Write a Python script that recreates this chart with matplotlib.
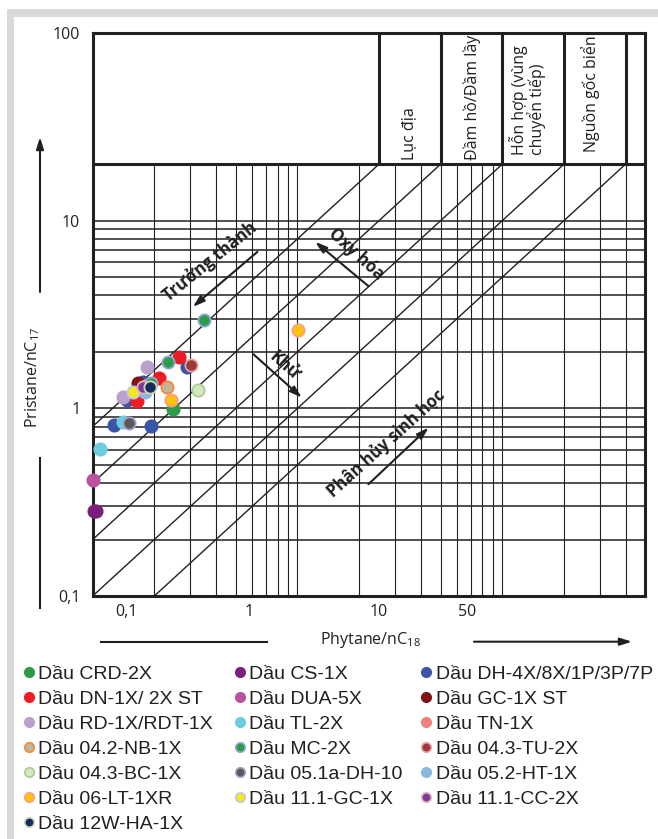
import numpy as np
import matplotlib
matplotlib.use('Agg')
import matplotlib.pyplot as plt
from matplotlib.lines import Line2D
from matplotlib.patches import Rectangle
from matplotlib.ticker import NullLocator

plt.rcParams['font.family'] = ['Open Sans', 'DejaVu Sans']
plt.rcParams['mathtext.fontset'] = 'custom'
plt.rcParams['mathtext.rm'] = 'Open Sans'

INK = '#231f20'

# legend names, in reading order (row by row, 3 per row)
names = ['Dầu CRD-2X', 'Dầu CS-1X', 'Dầu DH-4X/8X/1P/3P/7P',
         'Dầu DN-1X/ 2X ST', 'Dầu DUA-5X', 'Dầu GC-1X ST',
         'Dầu RD-1X/RDT-1X', 'Dầu TL-2X', 'Dầu TN-1X',
         'Dầu 04.2-NB-1X', 'Dầu MC-2X', 'Dầu 04.3-TU-2X',
         'Dầu 04.3-BC-1X', 'Dầu 05.1a-DH-10', 'Dầu 05.2-HT-1X',
         'Dầu 06-LT-1XR', 'Dầu 11.1-GC-1X', 'Dầu 11.1-CC-2X',
         'Dầu 12W-HA-1X']

# Phytane/nC18 per sample, same order as names
phytane = [[0.246], [0.101, 0.104, 0.168], [0.127, 0.192, 0.147, 0.290, 0.177],
           [0.264, 0.211, 0.164], [0.100], [0.166],
           [0.184, 0.140], [0.109, 0.141], [0.184],
           [0.230], [0.349, 0.232, 0.192], [0.301],
           [0.328], [0.151], [0.181],
           [1.01, 0.240], [0.158], [0.176],
           [0.191]]
# Pristane/nC17
pristane = [[0.99], [0.283, 0.283, 1.282], [0.814, 0.804, 1.106, 1.664, 1.384],
            [1.867, 1.454, 1.093], [0.414], [1.357],
            [1.664, 1.143], [0.604, 0.847], [1.33],
            [1.302], [2.95, 1.757, 1.362], [1.699],
            [1.250], [0.831], [1.224],
            [2.61, 1.106], [1.224], [1.297],
            [1.292]]

face = ['#2e9b48', '#7b1f7d', '#3a55a5', '#ed1c24', '#b9529f', '#7f1416',
        '#b9a0cf', '#6ccde0', '#f08080', '#c2b499', '#2e9b48', '#9b3a3a',
        '#d8e6c3', '#5a5a5a', '#8ab8de', '#ffc20e', '#f2ea1c', '#7b3c97',
        '#1b2a5e']
edge = ['#2e9b48', '#7b1f7d', '#3a55a5', '#ed1c24', '#b9529f', '#7f1416',
        '#b9a0cf', '#6ccde0', '#f08080', '#f08a3c', '#8fa9d6', '#e8a0a0',
        '#a9cd8a', '#a99bcc', '#8ab8de', '#f8a080', '#c0c8e6', '#e6b0b8',
        '#c6dbb4']

# Pr/Ph ratio lines and the header zones (Phytane/nC18 boundaries)
ratios = [8, 4, 2, 1, 0.5]
zone_edges = [2.5, 5, 10, 20, 40]
zone_labels = ['Lục địa', 'Đầm hồ/Đầm lầy', 'Hỗn hợp (vùng\nchuyển tiếp)', 'Nguồn gốc biển']
zone_label_x = [3.52, 7.14, 13.3, 26.9]
zone_label_y = [21.0, 21.0, 22.4, 23.2]

fig = plt.figure(figsize=(6.58, 8.39), dpi=100)
W, H = 658., 839.

# light grey frame strips (top and left)
fig.patches.append(Rectangle((7/W, 1-17/H), 1-7/W, 8/H, transform=fig.transFigure,
                             color='#d9d9d9', lw=0, zorder=0))
fig.patches.append(Rectangle((7/W, 0), 7/W, 1-9/H, transform=fig.transFigure,
                             color='#d9d9d9', lw=0, zorder=0))

ax = fig.add_axes([92.7/W, 1-596/H, 552.7/W, 563/H])
ax.set_xscale('log')
ax.set_yscale('log')
ax.set_xlim(0.1, 50)
ax.set_ylim(0.1, 100)
for s in ax.spines.values():
    s.set_linewidth(2.2)
    s.set_color(INK)

ax.set_xticks([])
ax.xaxis.set_minor_locator(NullLocator())
ax.set_yticks([0.1, 1, 10, 100], ['0,1', '1', '10', '100'])
ax.yaxis.set_minor_locator(NullLocator())
ax.tick_params(which='both', length=0, labelsize=11.5, pad=9, colors=INK)

# grid of the lower part
h_levels = np.concatenate([np.arange(2, 10) * 0.1, np.arange(1, 10), [10]])
v_levels = np.concatenate([np.arange(2, 10) * 0.1, np.arange(1, 10), [10, 20, 30, 40]])
ax.hlines(h_levels, 0.1, 50, color=INK, lw=1.1, zorder=1)
ax.vlines(v_levels, 0.1, 20, color=INK, lw=0.8, zorder=1)

# header box
ax.axhline(20, color=INK, lw=2.2, zorder=2)
ax.vlines(zone_edges, 20, 100, color=INK, lw=2.2, zorder=2)
for lab, x, y in zip(zone_labels, zone_label_x, zone_label_y):
    ax.text(x, y, lab, rotation=90, rotation_mode='anchor', ha='left', va='center',
            fontsize=11.5, color=INK, linespacing=0.95)

# Pr/Ph diagonals
for r in ratios:
    x0 = max(0.1, 0.1 / r)
    x1 = min(50, 20 / r)
    ax.plot([x0, x1], [r * x0, r * x1], color=INK, lw=1.0, zorder=1)

# process arrows + labels
arw = dict(arrowstyle='-|>,head_length=0.7,head_width=0.22', lw=1.5, color=INK,
           mutation_scale=10, shrinkA=0, shrinkB=0)
ax.annotate('', xy=(0.308, 3.47), xytext=(0.637, 6.82), arrowprops=arw)
ax.annotate('', xy=(1.22, 7.72), xytext=(2.22, 4.48), arrowprops=arw)
ax.annotate('', xy=(1.05, 1.14), xytext=(0.61, 1.94), arrowprops=arw)
ax.annotate('', xy=(4.37, 0.79), xytext=(2.22, 0.394), arrowprops=arw)
ax.text(0.3745, 6.09, 'Trưởng thành', rotation=39, ha='center', va='center',
        fontsize=12, fontweight='bold', color=INK)
ax.text(1.936, 6.64, 'Oxy hóa', rotation=-42, ha='center', va='center',
        fontsize=12, fontweight='bold', color=INK)
ax.text(0.861, 1.68, 'Khử', rotation=-42, ha='center', va='center',
        fontsize=12, fontweight='bold', color=INK)
ax.text(2.714, 0.653, 'Phân hủy sinh học', rotation=42, ha='center', va='center',
        fontsize=12, fontweight='bold', color=INK)

# samples
for px, py, fc, ec in zip(phytane, pristane, face, edge):
    ax.scatter(px, py, s=78, c=fc, edgecolors=ec, linewidths=1.3, zorder=4, clip_on=False)

# x tick labels (as printed on the original figure)
xt_pos = [0.0602, 0.2825, 0.5178, 0.6770]
xt_lab = ['0,1', '1', '10', '50']
for p, l in zip(xt_pos, xt_lab):
    ax.text(p, -0.029, l, transform=ax.transAxes, ha='center', va='center',
            fontsize=11.5, color=INK)

# axis titles with their arrows
fig.text(33/W, 1-377/H, 'Pristane/nC$_{\\mathregular{17}}$', rotation=90, ha='center',
         va='center', fontsize=11.5, color=INK)
fig.text(370/W, 1-640/H, 'Phytane/nC$_{\\mathregular{18}}$', ha='center', va='center',
         fontsize=11.5, color=INK)
ax.annotate('', xy=(40/W, 1-137/H), xytext=(40/W, 1-292/H), xycoords='figure fraction',
            arrowprops=arw)
fig.add_artist(Line2D([40/W, 40/W], [1-458/H, 1-608/H], lw=1.5, color=INK))
fig.add_artist(Line2D([100.7/W, 266.5/W], [1-641.7/H, 1-641.7/H], lw=1.5, color=INK))
ax.annotate('', xy=(632/W, 1-641.7/H), xytext=(474/W, 1-641.7/H), xycoords='figure fraction',
            arrowprops=arw)

# legend: three columns, each its own legend block
handles = [Line2D([], [], marker='o', ls='none', markersize=6.8, markerfacecolor=f,
                  markeredgecolor=e, markeredgewidth=1.2) for f, e in zip(face, edge)]
col_x = [22.7, 233.7, 420.2]
for i, cx in enumerate(col_x):
    fig.legend(handles[i::3], names[i::3], loc='upper left',
               bbox_to_anchor=(cx/W, 1-665/H), frameon=False, borderpad=0,
               borderaxespad=0, handlelength=0.6, handletextpad=0.2,
               labelspacing=0.38, prop={'family': 'Liberation Sans', 'size': 14},
               labelcolor=INK)

fig.savefig('out.png', dpi=100)
